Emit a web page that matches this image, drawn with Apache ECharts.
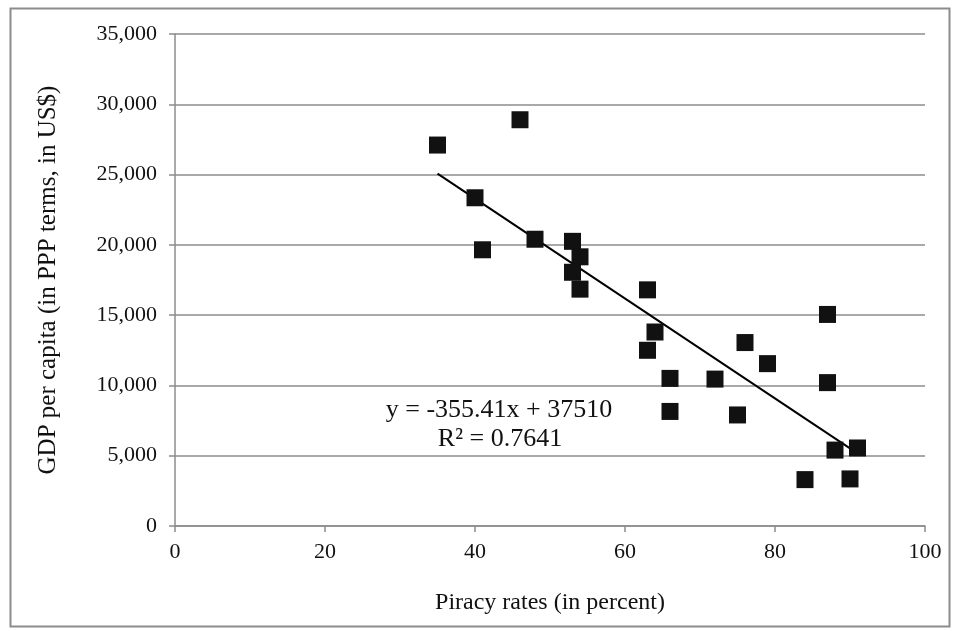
<!DOCTYPE html>
<html>
<head>
<meta charset="utf-8">
<script src="https://cdn.jsdelivr.net/npm/echarts@6/dist/echarts.min.js"></script>
<style>
html,body{margin:0;padding:0;background:#fff;}
#chart{width:955px;height:631px;}
</style>
</head>
<body>
<div id="chart"></div>
<script>
// Data
var piracyRates = [35, 46, 40, 41, 48, 53, 54, 53, 54, 63, 64, 63, 66, 66, 72, 76, 79, 75, 87, 87, 88, 91, 84, 90];
var gdpPerCapita = [27100, 28900, 23350, 19650, 20400, 20250, 19150, 18050, 16850, 16800, 13800, 12500, 10500, 8150, 10450, 13050, 11550, 7900, 15050, 10200, 5400, 5550, 3300, 3350];
var trendX = [35, 91];
var trendY = [25070, 5170];
var equationText = 'y = -355.41x + 37510';
var r2Text = 'R\u00B2 = 0.7641';
var xTicks = [0, 20, 40, 60, 80, 100];
var yTicks = [0, 5000, 10000, 15000, 20000, 25000, 30000, 35000];

var points = piracyRates.map(function (x, i) { return [x, gdpPerCapita[i]]; });
var trend = trendX.map(function (x, i) { return [x, trendY[i]]; });

var font = '"Liberation Serif", "Times New Roman", serif';
var chart = echarts.init(document.getElementById('chart'));
chart.setOption({
  animation: false,
  backgroundColor: '#fff',
  grid: { left: 175, right: 30, top: 34, bottom: 105 },
  xAxis: {
    type: 'value', min: 0, max: 100, interval: 20,
    name: 'Piracy rates (in percent)', nameLocation: 'middle', nameGap: 65,
    nameTextStyle: { fontFamily: font, fontSize: 24, color: '#111' },
    axisLine: { show: true, lineStyle: { color: '#8c8c8c', width: 1.5 } },
    axisTick: { show: true, inside: false, length: 6, lineStyle: { color: '#8c8c8c', width: 1.5 } },
    axisLabel: { fontFamily: font, fontSize: 22, color: '#111', margin: 15,
      formatter: function (v) { return xTicks.indexOf(v) >= 0 ? String(v) : ''; } },
    splitLine: { show: false }
  },
  yAxis: {
    type: 'value', min: 0, max: 35000, interval: 5000,
    name: 'GDP per capita (in PPP terms, in US$)', nameLocation: 'middle', nameGap: 114,
    nameTextStyle: { fontFamily: font, fontSize: 25, color: '#111' },
    axisLine: { show: true, lineStyle: { color: '#8c8c8c', width: 1.5 } },
    axisTick: { show: true, inside: false, length: 6, lineStyle: { color: '#8c8c8c', width: 1.5 } },
    axisLabel: { fontFamily: font, fontSize: 22, color: '#111', margin: 18,
      formatter: function (v) { return yTicks.indexOf(v) >= 0 ? v.toLocaleString('en-US') : ''; } },
    splitLine: { show: true, lineStyle: { color: '#8c8c8c', width: 1.5 } }
  },
  series: [
    {
      type: 'line', data: trend, symbol: 'none', silent: true,
      lineStyle: { color: '#000', width: 2 }, z: 3
    },
    {
      type: 'scatter', data: points, symbol: 'rect', symbolSize: 17,
      itemStyle: { color: '#111', opacity: 1 }, z: 4
    }
  ],
  graphic: [
    { type: 'rect', left: 8, top: 6, shape: { width: 939, height: 618 },
      style: { fill: 'none', stroke: '#8c8c8c', lineWidth: 2 }, silent: true },
    { type: 'text', x: 499, y: 410, z: 10,
      style: { text: equationText, font: '26px ' + font, fill: '#111', textAlign: 'center', textVerticalAlign: 'middle' } },
    { type: 'text', x: 500, y: 439, z: 10,
      style: { text: r2Text, font: '26px ' + font, fill: '#111', textAlign: 'center', textVerticalAlign: 'middle' } }
  ]
});
</script>
</body>
</html>
